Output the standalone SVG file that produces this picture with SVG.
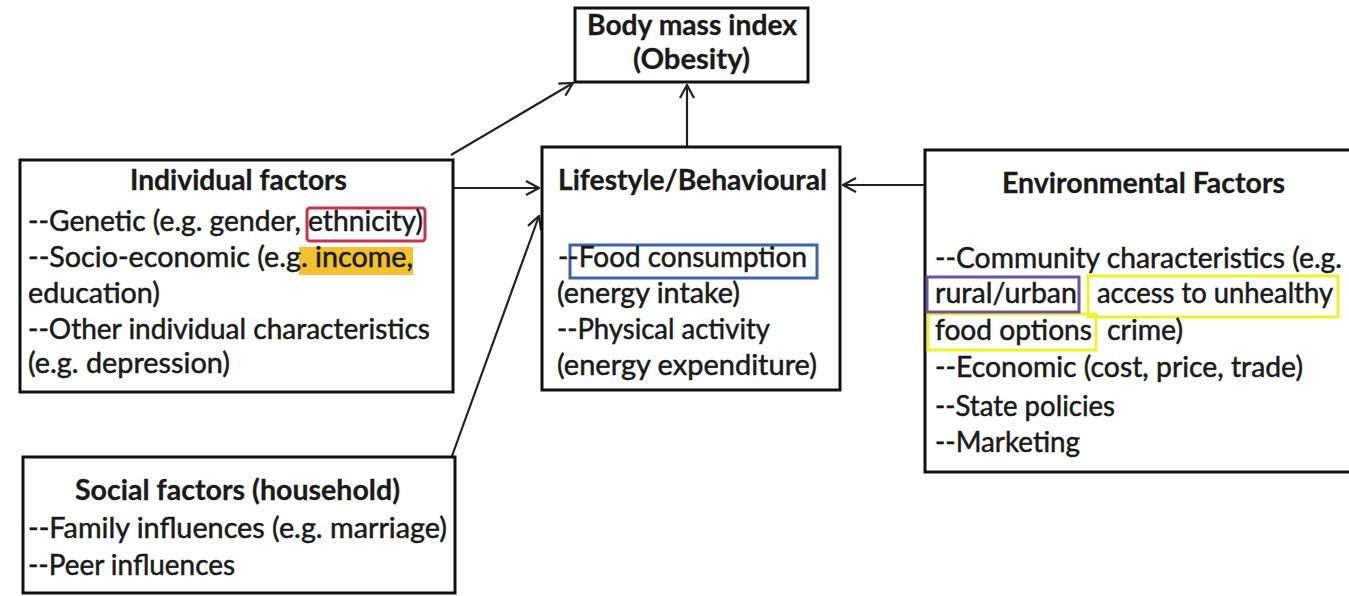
<svg xmlns="http://www.w3.org/2000/svg" width="1349" height="596" viewBox="0 0 1349 596">
<style>
.box{fill:#fff;stroke:#111;stroke-width:3}
.t{font-family:Lato,"Liberation Sans",sans-serif;font-size:28px;fill:#1a1a1a;stroke:#1a1a1a;stroke-width:0.5}
.b{font-weight:bold;stroke-width:0.3}
.c{stroke:#222;stroke-width:2.2;fill:none;marker-end:url(#ah)}
.hl{fill:none;stroke-width:3}
</style>
<defs>
<marker id="ah" viewBox="0 0 16 16" refX="15" refY="8" markerWidth="16" markerHeight="16" markerUnits="userSpaceOnUse" orient="auto">
<path d="M2,1 L15,8 L2,15" fill="none" stroke="#222" stroke-width="2.2"/>
</marker>
</defs>
<rect width="1349" height="596" fill="#fff"/>
<g id="connectors">
<line class="c" x1="451" y1="155" x2="573" y2="83"/>
<line class="c" x1="453" y1="188" x2="539" y2="188"/>
<line class="c" x1="452" y1="456" x2="539" y2="216"/>
<line class="c" x1="687" y1="147" x2="687" y2="85"/>
<line class="c" x1="925" y1="185" x2="843" y2="185"/>
</g>
<g id="bmi">
<rect class="box" x="575" y="8" width="233" height="74"/>
<text class="t b" x="587" y="35" textLength="210" lengthAdjust="spacingAndGlyphs">Body mass index</text>
<text class="t b" x="633" y="69" textLength="117" lengthAdjust="spacingAndGlyphs">(Obesity)</text>
</g>
<g id="individual">
<rect class="box" x="20" y="160" width="433" height="232"/>
<rect x="299" y="247" width="114" height="28" fill="#f2c12e"/>
<rect class="hl" x="307" y="208" width="118" height="33" rx="3" stroke="#c4364c"/>
<text class="t b" x="130" y="190" textLength="217" lengthAdjust="spacingAndGlyphs">Individual factors</text>
<text class="t" x="28" y="231" textLength="395" lengthAdjust="spacingAndGlyphs">--Genetic (e.g. gender, ethnicity)</text>
<text class="t" x="28" y="267" textLength="385" lengthAdjust="spacingAndGlyphs">--Socio-economic (e.g. income,</text>
<text class="t" x="28" y="303" textLength="132" lengthAdjust="spacingAndGlyphs">education)</text>
<text class="t" x="28" y="339" textLength="402" lengthAdjust="spacingAndGlyphs">--Other individual characteristics</text>
<text class="t" x="28" y="373" textLength="202" lengthAdjust="spacingAndGlyphs">(e.g. depression)</text>
</g>
<g id="lifestyle">
<rect class="box" x="542" y="147" width="298" height="243"/>
<rect class="hl" x="570" y="245" width="247" height="33" stroke="#3e64a8"/>
<text class="t b" x="558" y="190" textLength="269" lengthAdjust="spacingAndGlyphs">Lifestyle/Behavioural</text>
<text class="t" x="558" y="267" textLength="249" lengthAdjust="spacingAndGlyphs">--Food consumption</text>
<text class="t" x="557" y="303" textLength="183" lengthAdjust="spacingAndGlyphs">(energy intake)</text>
<text class="t" x="557" y="339" textLength="213" lengthAdjust="spacingAndGlyphs">--Physical activity</text>
<text class="t" x="557" y="375" textLength="260" lengthAdjust="spacingAndGlyphs">(energy expenditure)</text>
</g>
<g id="environmental">
<rect class="box" x="925" y="150" width="450" height="322"/>
<rect class="hl" x="1088" y="276" width="250" height="41" stroke="#f0f02c" stroke-width="5"/>
<rect class="hl" x="928" y="314" width="168" height="36" stroke="#f0f02c" stroke-width="5"/>
<rect class="hl" x="927" y="277" width="152" height="35" stroke="#6b52a3"/>
<text class="t b" x="1002" y="193" textLength="283" lengthAdjust="spacingAndGlyphs">Environmental Factors</text>
<text class="t" x="935" y="268" textLength="407" lengthAdjust="spacingAndGlyphs">--Community characteristics (e.g.</text>
<text class="t" x="935" y="303" textLength="142" lengthAdjust="spacingAndGlyphs">rural/urban</text>
<text class="t" x="1097" y="303" textLength="236" lengthAdjust="spacingAndGlyphs">access to unhealthy</text>
<text class="t" x="935" y="340" textLength="157" lengthAdjust="spacingAndGlyphs">food options</text>
<text class="t" x="1107" y="340" textLength="76" lengthAdjust="spacingAndGlyphs">crime)</text>
<text class="t" x="935" y="377" textLength="368" lengthAdjust="spacingAndGlyphs">--Economic (cost, price, trade)</text>
<text class="t" x="935" y="416" textLength="180" lengthAdjust="spacingAndGlyphs">--State policies</text>
<text class="t" x="935" y="452" textLength="145" lengthAdjust="spacingAndGlyphs">--Marketing</text>
</g>
<g id="social">
<rect class="box" x="23" y="457" width="432" height="136"/>
<text class="t b" x="75" y="500" textLength="325" lengthAdjust="spacingAndGlyphs">Social factors (household)</text>
<text class="t" x="28" y="538" textLength="419" lengthAdjust="spacingAndGlyphs">--Family influences (e.g. marriage)</text>
<text class="t" x="28" y="575" textLength="207" lengthAdjust="spacingAndGlyphs">--Peer influences</text>
</g>
</svg>
